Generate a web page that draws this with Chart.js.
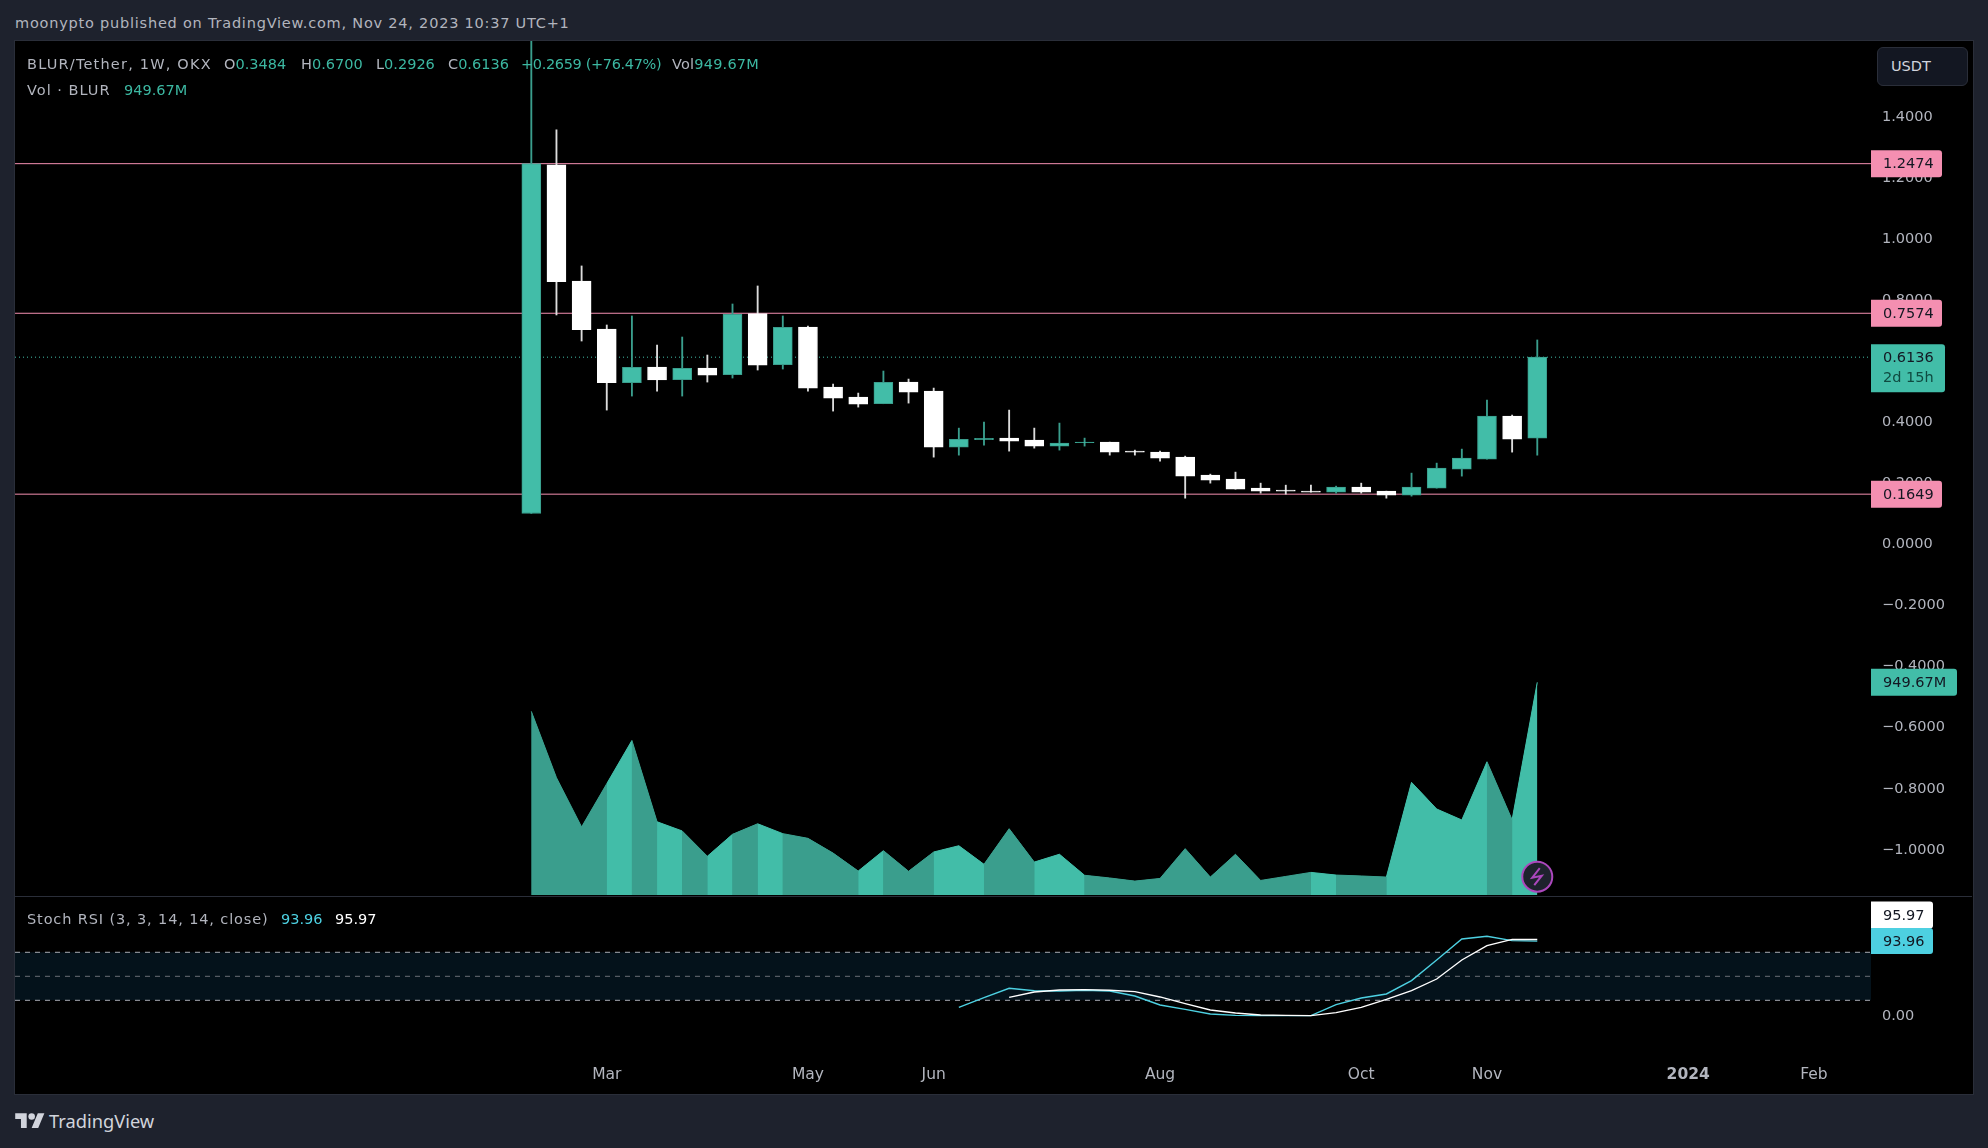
<!DOCTYPE html>
<html><head><meta charset="utf-8">
<script src="https://cdn.jsdelivr.net/npm/chart.js@4/dist/chart.umd.min.js"></script>
<style>
html,body{margin:0;padding:0;background:#1e222d;width:1988px;height:1148px;overflow:hidden;font-family:"DejaVu Sans",sans-serif}
#frame{position:absolute;left:14px;top:40px;width:1958px;height:1053px;background:#000;border:1px solid #2a2e39}
#sep{position:absolute;left:15px;top:896px;width:1957px;height:1px;background:#2a2e39;z-index:3}
canvas{position:absolute;display:block}
#c1{left:15px;top:41px}
#c2{left:15px;top:897px}
.t{position:absolute;white-space:pre;font-size:14.5px;line-height:20px;z-index:5;color:#b2b5be}
.g{color:#3cb8a2}
#usdt{position:absolute;left:1877px;top:47px;width:89px;height:37px;border:1px solid #2a2e39;border-radius:6px;background:#131722;color:#d1d4dc;font-size:14.5px;line-height:37px;text-indent:13px;z-index:5}
#logo{position:absolute;left:15px;top:1110px;z-index:5}
</style></head><body>
<div id="frame"></div>
<canvas id="c1" width="1957" height="854"></canvas>
<canvas id="c2" width="1957" height="197"></canvas>
<div id="sep"></div>
<div class="t" style="left:15px;top:13px;letter-spacing:.78px">moonypto published on TradingView.com, Nov 24, 2023 10:37 UTC+1</div>
<div class="t" style="left:27px;top:54px;letter-spacing:1.2px">BLUR/Tether, 1W, OKX</div>
<div class="t" style="left:224px;top:54px">O<span class="g">0.3484</span></div>
<div class="t" style="left:301px;top:54px">H<span class="g">0.6700</span></div>
<div class="t" style="left:376px;top:54px">L<span class="g">0.2926</span></div>
<div class="t" style="left:448px;top:54px">C<span class="g">0.6136</span></div>
<div class="t g" style="left:521px;top:54px;letter-spacing:-.35px">+0.2659 (+76.47%)</div>
<div class="t" style="left:672px;top:54px;letter-spacing:.2px">Vol<span class="g">949.67M</span></div>
<div class="t" style="left:27px;top:80px;letter-spacing:1px">Vol · BLUR</div>
<div class="t g" style="left:124px;top:80px">949.67M</div>
<div class="t" style="left:27px;top:909px;letter-spacing:.87px">Stoch RSI (3, 3, 14, 14, close)</div>
<div class="t" style="left:281px;top:909px;color:#4dd0e1">93.96</div>
<div class="t" style="left:335px;top:909px;color:#fff">95.97</div>
<div id="usdt">USDT</div>
<svg id="logo" width="30" height="23" viewBox="0 0 36 28" fill="#d1d4dc"><path d="M14 22H7V11H0V4h14v18zM28 22h-8l7.5-18h8L28 22z"/><circle cx="20" cy="8" r="4"/></svg>
<div class="t" style="left:49px;top:1108px;font-family:'Noto Sans',sans-serif;font-size:18.3px;line-height:26px;color:#d1d4dc">TradingView</div>
<script>
// ---- data ----
const opens  = [0.1015,1.2436,0.8632,0.7059,0.5299,0.5813,0.5398,0.5780,0.5561,0.7562,0.5889,0.7124,0.5157,0.4829,0.4611,0.5321,0.5026,0.3190,0.3430,0.3485,0.3420,0.3223,0.3332,0.3354,0.3059,0.3026,0.2862,0.2272,0.2141,0.1846,0.1781,0.1748,0.1715,0.1879,0.1748,0.1617,0.1846,0.2469,0.2797,0.4207,0.3484];
const closes = [1.2474,0.8611,0.7037,0.5299,0.5802,0.5387,0.5769,0.5550,0.7540,0.5878,0.7113,0.5124,0.4796,0.4600,0.5310,0.4993,0.3190,0.3441,0.3474,0.3387,0.3223,0.3321,0.3354,0.3026,0.3026,0.2830,0.2240,0.2108,0.1813,0.1748,0.1748,0.1715,0.1879,0.1715,0.1617,0.1879,0.2502,0.2830,0.4207,0.3453,0.6136];
const highs  = [1.7000,1.3583,0.9124,0.7190,0.7485,0.6534,0.6796,0.6206,0.7878,0.8468,0.7485,0.7157,0.5255,0.4960,0.5682,0.5419,0.5124,0.3812,0.4009,0.4403,0.3813,0.3977,0.3485,0.3354,0.3092,0.3059,0.2895,0.2305,0.2371,0.2010,0.1944,0.1944,0.1912,0.2010,0.1748,0.2338,0.2666,0.3125,0.4731,0.4240,0.6700];
const lows   = [0.1015,0.7518,0.6665,0.4403,0.4862,0.5026,0.4862,0.5321,0.5452,0.5715,0.5747,0.5026,0.4370,0.4501,0.4611,0.4632,0.2862,0.2927,0.3256,0.3059,0.3157,0.3092,0.3223,0.2928,0.2928,0.2731,0.1518,0.2010,0.1813,0.1682,0.1649,0.1715,0.1682,0.1682,0.1518,0.1584,0.1846,0.2240,0.2797,0.3026,0.2926];
const upCandle = [1,0,0,0,1,0,1,0,1,0,1,0,0,0,1,0,0,1,1,0,0,1,1,0,0,0,0,0,0,0,0,0,1,0,0,1,1,1,1,0,1];
const volumes = [820,524,304,497,690,327,286,173,271,318,274,253,187,107,198,106,192,220,137,296,147,182,88,76,62,74,207,80,182,65,83,101,89,85,80,503,384,335,595,336,949.67];
const stochK = [null,null,null,null,null,null,null,null,null,null,null,null,null,null,null,null,null,11.2,23.3,35,32,31.7,32.5,31.7,25.4,14.1,8.7,2.9,1.2,0.8,0.8,0.8,14.6,22.9,27.9,44.6,70.4,96.6,100,94.6,93.96];
const stochD = [null,null,null,null,null,null,null,null,null,null,null,null,null,null,null,null,null,null,null,23.7,30.4,32.9,33.3,32.5,30.8,24.2,15.8,7.9,4.1,1.6,1.2,0.8,4.6,11.2,21.2,32,46.6,70.4,88.3,96.2,95.97];
const priceLevels = [1.2474,0.7574,0.1649];
const lastPrice = 0.6136;
const lastVolume = 949.67;
const priceTicks = [1.4,1.2,1.0,0.8,0.6,0.4,0.2,0,-0.2,-0.4,-0.6,-0.8,-1.0];
const monthTickIndex = [3,11,16,25,33,38,46,51];
const monthTickLabels = ['Mar','May','Jun','Aug','Oct','Nov','2024','Feb'];
const stochBands = [80,50,20];
const stochTicks = [0];
// ---- view ranges ----
const xMin=-20.53, xMax=53.27, pMin=-1.1480, pMax=1.6492, vMax=3813, sMin=-42.1, sMax=149.1;
const GREEN='#42bda8', GREEN_D='#3a9e8d', WICK_W='#dcdcdc', PINK='#f48fb1';
const FONT={family:'"DejaVu Sans",sans-serif',size:14.5};
const idx=opens.map((_,i)=>i);
function fitV(w){return s=>{s.width=w;s.paddingTop=0;s.paddingBottom=0;};}
function fitH(h){return s=>{s.height=h;s.paddingLeft=0;s.paddingRight=0;};}
function hLine(y,color,dash,order,extra){return Object.assign({type:'line',data:[{x:xMin,y},{x:xMax,y}],borderColor:color,borderWidth:1,borderDash:dash,pointRadius:0,order},extra||{});}
function badge(ctx,x,w,yc,h,bg,lines){
  ctx.save();ctx.fillStyle=bg;ctx.beginPath();ctx.roundRect(x,yc-h/2,w,h,[0,3,3,0]);ctx.fill();
  ctx.font='14.5px "DejaVu Sans",sans-serif';ctx.textBaseline='middle';ctx.textAlign='left';
  for(const l of lines){ctx.fillStyle=l.c||'#131722';ctx.fillText(l.t,x+12,yc+1+(l.dy||0));}
  ctx.restore();
}
const mainBadges={id:'mainBadges',afterDraw(c){
  const ctx=c.ctx,r=c.chartArea.right,y=c.scales.y,v=c.scales.v;
  priceLevels.forEach(p=>badge(ctx,r,71,y.getPixelForValue(p),27,PINK,[{t:p.toFixed(4)}]));
  badge(ctx,r,74,y.getPixelForValue(lastPrice)+11,48,GREEN,[{t:lastPrice.toFixed(4),dy:-11},{t:'2d 15h',dy:9,c:'#0f4a40'}]);
  badge(ctx,r,86,v.getPixelForValue(lastVolume),27,GREEN,[{t:lastVolume.toFixed(2)+'M'}]);
  // lightning marker on the last bar
  const cx=c.scales.x.getPixelForValue(opens.length-1),cy=c.chartArea.bottom-18.3;
  ctx.save();ctx.beginPath();ctx.arc(cx,cy,15,0,Math.PI*2);ctx.fillStyle='#1e222d';ctx.fill();
  ctx.lineWidth=2;ctx.strokeStyle='#ab47bc';ctx.stroke();
  ctx.beginPath();ctx.moveTo(cx+2.5,cy-8.5);ctx.lineTo(cx-5,cy+1);ctx.lineTo(cx+4.5,cy-1);ctx.lineTo(cx-3,cy+8.5);
  ctx.lineWidth=2;ctx.stroke();ctx.restore();
}};
const stochBadges={id:'stochBadges',afterDraw(c){
  const ctx=c.ctx,r=c.chartArea.right,y=c.scales.y;
  const ck=y.getPixelForValue(stochK[stochK.length-1]);
  badge(ctx,r,62,ck-26,27,'#ffffff',[{t:stochD[stochD.length-1].toFixed(2)}]);
  badge(ctx,r,62,ck,26,'#4dd0e1',[{t:stochK[stochK.length-1].toFixed(2)}]);
}};
new Chart(document.getElementById('c1'),{
  data:{datasets:[
    {type:'bar',label:'body',data:idx.map(i=>({x:i,y:[opens[i],closes[i]]})),grouped:false,barThickness:19,
     backgroundColor:upCandle.map(u=>u?GREEN:'#ffffff'),borderColor:upCandle.map(u=>u?GREEN_D:'#ffffff'),borderWidth:1,borderSkipped:false,order:1},
    {type:'bar',label:'wick',data:idx.map(i=>({x:i,y:[lows[i],highs[i]]})),grouped:false,barThickness:1.2,
     backgroundColor:upCandle.map(u=>u?GREEN_D:WICK_W),borderWidth:0,order:2},
    {type:'line',label:'volume',yAxisID:'v',data:idx.map(i=>({x:i,y:volumes[i]})),pointRadius:0,borderWidth:1,tension:0,fill:'origin',order:3,
     backgroundColor:GREEN_D,borderColor:GREEN_D,
     segment:{backgroundColor:s=>upCandle[s.p1DataIndex]?GREEN:GREEN_D,borderColor:s=>upCandle[s.p1DataIndex]?GREEN:GREEN_D}},
    {type:'line',label:'volume base',yAxisID:'v',data:idx.map(i=>({x:i,y:volumes[i]})),pointRadius:0,borderWidth:0,tension:0,fill:'origin',order:4,backgroundColor:GREEN_D},
    ...priceLevels.map(p=>hLine(p,PINK,[],5)),
    hLine(lastPrice,GREEN,[1,3],6)
  ]},
  options:{responsive:false,animation:false,devicePixelRatio:1,layout:{padding:0},
    plugins:{legend:{display:false},tooltip:{enabled:false}},
    scales:{
      x:{type:'linear',display:false,offset:false,min:xMin,max:xMax},
      y:{type:'linear',position:'right',min:pMin,max:pMax,grid:{display:false},border:{display:false},
         afterBuildTicks:s=>{s.ticks=priceTicks.map(value=>({value}));},afterFit:fitV(101),
         ticks:{color:'#b2b5be',font:FONT,padding:3,autoSkip:false,callback:v=>v.toFixed(4).replace('-','\u2212')}},
      v:{type:'linear',display:false,min:0,max:vMax}
    }},
  plugins:[mainBadges]
});
new Chart(document.getElementById('c2'),{
  data:{datasets:[
    {type:'line',label:'%D',data:idx.map(i=>({x:i,y:stochD[i]})),borderColor:'#ffffff',borderWidth:1.4,pointRadius:0,tension:0,spanGaps:false,order:1},
    {type:'line',label:'%K',data:idx.map(i=>({x:i,y:stochK[i]})),borderColor:'#4dd0e1',borderWidth:1.4,pointRadius:0,tension:0,spanGaps:false,order:2},
    hLine(stochBands[0],'#a8abb3',[5,5],4,{fill:{target:{value:stochBands[2]}},backgroundColor:'#04121b'}),
    hLine(stochBands[1],'#6a6e76',[5,5],3),
    hLine(stochBands[2],'#a8abb3',[5,5],3)
  ]},
  options:{responsive:false,animation:false,devicePixelRatio:1,layout:{padding:0},
    plugins:{legend:{display:false},tooltip:{enabled:false}},
    scales:{
      x:{type:'linear',position:'bottom',min:xMin,max:xMax,grid:{display:false},border:{display:false},
         afterBuildTicks:s=>{s.ticks=monthTickIndex.map(value=>({value}));},afterFit:fitH(44),
         ticks:{color:'#b2b5be',padding:8,autoSkip:false,maxRotation:0,
           font:c=>({family:FONT.family,size:15.5,weight:monthTickLabels[monthTickIndex.indexOf(c.tick&&c.tick.value)]==='2024'?'bold':'normal'}),
           callback:v=>monthTickLabels[monthTickIndex.indexOf(v)]}},
      y:{type:'linear',position:'right',min:sMin,max:sMax,grid:{display:false},border:{display:false},
         afterBuildTicks:s=>{s.ticks=stochTicks.map(value=>({value}));},afterFit:fitV(101),
         ticks:{color:'#b2b5be',font:FONT,padding:3,autoSkip:false,callback:v=>v.toFixed(2)}}
    }},
  plugins:[stochBadges]
});
</script>
</body></html>
